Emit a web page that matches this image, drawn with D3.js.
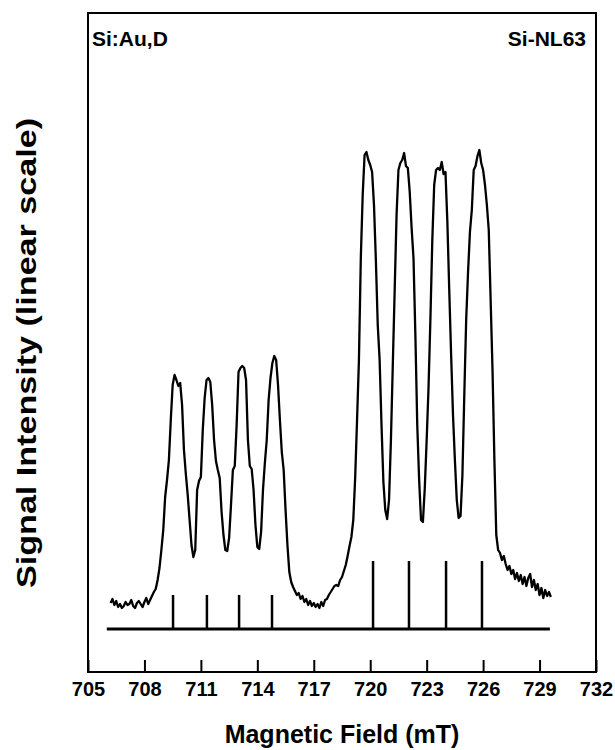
<!DOCTYPE html>
<html lang="en">
<head>
    <meta charset="UTF-8">
    <title>Si:Au,D</title>
    <script src="https://cdnjs.cloudflare.com/ajax/libs/d3/7.8.5/d3.min.js"></script>
    <style>
        body { margin: 0; background: #fff; }
        text { font-family: "Liberation Sans", Arial, sans-serif; font-weight: bold; fill: #000; }
    </style>
</head>
<body>
    <div id="wrapper"></div>
    <script>
        // spectrum recorded every 0.1 mT, starting at 706.2 mT
        const fieldStart = 706.2
        const fieldStep = 0.1
        const signal = [
            5.2, 6.0, 4.8, 5.6, 4.4, 5.0, 4.2, 4.6, 5.4, 4.8,         // 706.2
            5.0, 5.8, 4.6, 4.2, 5.2, 5.6, 5.0, 4.4, 5.4, 6.2,         // 707.2
            5.0, 5.8, 6.6, 7.4, 8.0, 9.8, 12.2, 15.8, 19.8, 26.4,     // 708.2
            29.8, 33.8, 41.8, 48.8, 50.8, 49.8, 48.6, 49.2, 44.8, 35.8, // 709.2
            31.0, 26.8, 21.8, 16.8, 14.4, 15.8, 27.8, 29.6, 30.4, 39.8, // 710.2
            46.2, 49.8, 50.2, 49.4, 44.8, 37.8, 33.6, 31.8, 30.2, 23.4, // 711.2
            18.8, 15.8, 15.6, 18.2, 24.8, 31.8, 32.6, 40.8, 51.4, 52.2, // 712.2
            52.6, 52.2, 49.8, 37.8, 32.6, 32.0, 27.8, 20.8, 16.4, 16.0, // 713.2
            19.4, 27.8, 33.2, 37.8, 45.8, 50.2, 53.2, 54.6, 53.8, 48.8, // 714.2
            41.8, 35.4, 31.8, 23.8, 16.8, 11.4, 9.4, 8.4, 7.6, 6.8,   // 715.2
            7.2, 6.0, 6.6, 5.4, 6.0, 4.8, 5.6, 4.6, 5.2, 4.4,         // 716.2
            5.0, 4.2, 5.4, 4.6, 5.8, 6.0, 6.8, 7.4, 8.0, 8.6,         // 717.2
            8.8, 8.6, 9.8, 10.4, 11.6, 12.8, 14.6, 16.6, 18.4, 21.8,  // 718.2
            30.2, 41.8, 53.8, 74.2, 86.8, 94.8, 95.4, 93.8, 92.8, 91.4, // 719.2
            84.8, 73.8, 60.8, 53.8, 40.8, 29.4, 23.8, 22.0, 25.8, 37.8, // 720.2
            52.8, 67.8, 82.8, 91.8, 93.2, 93.8, 95.2, 92.6, 92.2, 87.4, // 721.2
            80.2, 74.2, 58.8, 40.8, 29.8, 21.8, 21.4, 28.2, 37.8, 48.4, // 722.2
            62.2, 77.8, 88.8, 91.8, 92.2, 91.8, 93.4, 91.0, 91.4, 81.4, // 723.2
            67.8, 54.8, 42.8, 33.8, 25.8, 22.2, 22.6, 30.8, 46.8, 61.8, // 724.2
            71.4, 79.4, 83.8, 91.8, 92.6, 94.6, 95.8, 93.2, 91.8, 88.8, // 725.2
            84.8, 79.8, 65.8, 51.8, 33.8, 18.8, 15.8, 15.2, 13.8, 14.6, // 726.2
            13.0, 11.8, 12.6, 11.0, 11.8, 10.0, 11.2, 9.6, 10.8, 9.0, // 727.2
            10.4, 8.6, 10.2, 11.0, 8.4, 9.8, 7.8, 9.0, 6.8, 8.2,      // 728.2
            6.2, 7.8, 6.6, 7.4, 6.4                                   // 729.2
        ]

        // stick diagram of the line positions
        const stickFields = [709.52, 711.32, 713.03, 714.78, 720.15, 722.06, 724.03, 725.94]
        const stickHeights = [6.8, 6.8, 6.8, 6.8, 13.6, 13.6, 13.6, 13.6]
        const stickRange = [706.0, 729.55]

        const xTicks = [705, 708, 711, 714, 717, 720, 723, 726, 729, 732]

        const dataset = signal.map((v, i) => ({ field: fieldStart + i * fieldStep, signal: v }))

        let dimensions = {
            width: 615,
            height: 750,
            margin: { top: 13, right: 19, bottom: 78, left: 88 }
        }
        dimensions.boundedWidth = dimensions.width - dimensions.margin.left - dimensions.margin.right
        dimensions.boundedHeight = dimensions.height - dimensions.margin.top - dimensions.margin.bottom

        const wrapper = d3.select('#wrapper')
            .append('svg')
                .attr('width', dimensions.width)
                .attr('height', dimensions.height)

        const bounds = wrapper.append('g')
            .attr('transform', `translate(${dimensions.margin.left},${dimensions.margin.top})`)

        const xScale = d3.scaleLinear()
            .domain([705, 732])
            .range([0, dimensions.boundedWidth])

        const yScale = d3.scaleLinear()
            .domain([-8.6, 123.2])
            .range([dimensions.boundedHeight, 0])

        // x axis: ticks point up into the frame
        const xAxisGenerator = d3.axisBottom(xScale)
            .tickValues(xTicks)
            .tickFormat(d3.format('d'))
            .tickSizeInner(-12)
            .tickSizeOuter(0)
            .tickPadding(10)

        const xAxis = bounds.append('g')
            .attr('transform', `translate(0,${dimensions.boundedHeight})`)
            .call(xAxisGenerator)
        xAxis.select('.domain').remove()
        xAxis.selectAll('line').attr('stroke', '#000').attr('stroke-width', 2)
        xAxis.selectAll('text')
            .style('font-size', '20px')
            .attr('font-family', null)

        // frame
        bounds.append('rect')
            .attr('x', 0)
            .attr('y', 0)
            .attr('width', dimensions.boundedWidth)
            .attr('height', dimensions.boundedHeight)
            .attr('fill', 'none')
            .attr('stroke', '#000')
            .attr('stroke-width', 2)

        // stick baseline + sticks
        bounds.append('line')
            .attr('x1', xScale(stickRange[0]))
            .attr('x2', xScale(stickRange[1]))
            .attr('y1', yScale(0))
            .attr('y2', yScale(0))
            .attr('stroke', '#000')
            .attr('stroke-width', 3)

        bounds.selectAll('.stick')
            .data(stickFields)
            .join('line')
                .attr('class', 'stick')
                .attr('x1', d => xScale(d))
                .attr('x2', d => xScale(d))
                .attr('y1', yScale(0))
                .attr('y2', (d, i) => yScale(stickHeights[i]))
                .attr('stroke', '#000')
                .attr('stroke-width', 2.5)

        // spectrum
        const lineGenerator = d3.line()
            .x(d => xScale(d.field))
            .y(d => yScale(d.signal))

        bounds.append('path')
            .attr('d', lineGenerator(dataset))
            .attr('fill', 'none')
            .attr('stroke', '#000')
            .attr('stroke-width', 2.3)
            .attr('stroke-linejoin', 'round')

        // labels
        bounds.append('text')
            .attr('x', 4)
            .attr('y', 33)
            .style('font-size', '21px')
            .text('Si:Au,D')

        bounds.append('text')
            .attr('x', dimensions.boundedWidth - 10)
            .attr('y', 33)
            .attr('text-anchor', 'end')
            .style('font-size', '21px')
            .text('Si-NL63')

        wrapper.append('text')
            .attr('x', dimensions.margin.left + dimensions.boundedWidth / 2)
            .attr('y', 743)
            .attr('text-anchor', 'middle')
            .style('font-size', '25px')
            .text('Magnetic Field (mT)')

        wrapper.append('text')
            .attr('transform', `translate(36,${dimensions.margin.top + 340}) rotate(-90)`)
            .attr('text-anchor', 'middle')
            .attr('textLength', 470)
            .attr('lengthAdjust', 'spacingAndGlyphs')
            .style('font-size', '28px')
            .text('Signal Intensity (linear scale)')
    </script>
</body>
</html>
